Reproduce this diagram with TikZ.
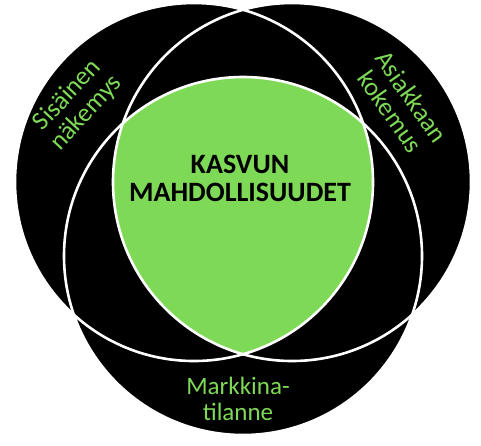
\documentclass[tikz,border=0pt]{standalone}
\usepackage{fontspec}
\setmainfont{Carlito}
\definecolor{vgreen}{RGB}{126,217,87}
\tikzset{
  blob/.style={fill=black},
  rim/.style={draw=white,line width=2.6pt},
  lbl/.style={text=vgreen,align=center,inner sep=0pt,font=\fontsize{26}{26}\selectfont},
  title/.style={text=black,align=center,inner sep=0pt,font=\bfseries\fontsize{28}{28.4}\selectfont}
}
\begin{document}
\begin{tikzpicture}[x=1pt,y=-1pt]
\useasboundingbox (0,0) rectangle (481,445);
\coordinate (cl) at (194,182);
\coordinate (cr) at (292,182);
\coordinate (cb) at (243,256);
\def\R{179}
% black discs
\fill[blob] (cl) circle (\R);
\fill[blob] (cr) circle (\R);
\fill[blob] (cb) circle (\R);
% green common region
\begin{scope}
  \clip (cl) circle (\R);
  \clip (cr) circle (\R);
  \fill[vgreen] (cb) circle (\R);
\end{scope}
% white outlines
\draw[rim] (cl) circle (\R);
\draw[rim] (cr) circle (\R);
\draw[rim] (cb) circle (\R);
% labels
\node[title] (kasvu) at (240,178.5) {KASVUN\\MAHDOLLISUUDET};
\node[lbl,rotate=47] (sisa) at (77,104) {Sisäinen\\näkemys};
\node[lbl,rotate=-55] (asia) at (401,104) {Asiakkaan\\kokemus};
\node[lbl,font=\fontsize{25}{26}\selectfont] (markk) at (238,399) {Markkina-\\tilanne};
\end{tikzpicture}
\end{document}
